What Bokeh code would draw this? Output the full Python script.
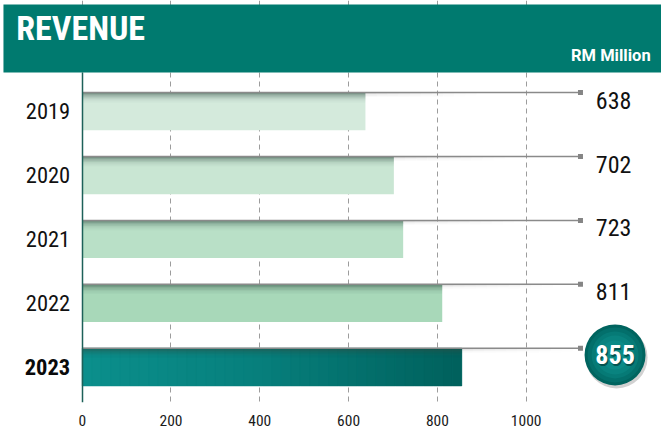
from bokeh.plotting import figure
from bokeh.embed import file_html
from bokeh.resources import INLINE
from bokeh.models import ColumnDataSource, Range1d, FixedTicker, LinearAxis
from bokeh.core.properties import value

# ---------------- data ----------------
years = ["2019", "2020", "2021", "2022", "2023"]
revenue = [638, 702, 723, 811, 855]
bar_colors = ["#d4eadc", "#c9e6d3", "#b9e0c7", "#a8d8b9", "#0a8a87"]
x_ticks = [0, 200, 400, 600, 800, 1000]
title_text = "REVENUE"
unit_text = "RM Million"

# ---------------- layout (measured in reference pixels) ----------------
REF_W, REF_H = 669, 437
W, H = 661, 429                 # fits the window with the 8px page margin
SX, SY = W / REF_W, H / REF_H
X_ZERO = 82.7 * SX              # canvas px of x = 0
PPU = 0.4493 * SX               # px per revenue unit
ROW = 65.1 * SY                 # px per category row
Y0 = 113.0 * SY                 # canvas px of first row centre
FRAME_H = 402
BAR_H = 0.59                    # bar height (row units)
COND = value("Roboto Condensed")


def dx(ref_px):
    return (ref_px * SX - X_ZERO) / PPU


def dy(ref_px):
    return (ref_px * SY - Y0) / ROW


x_start, x_end = -X_ZERO / PPU, (W - X_ZERO) / PPU
y_bottom, y_top = (FRAME_H - Y0) / ROW, -Y0 / ROW
header_bottom = dy(73.3)

pos = list(range(len(years)))
last = pos[-1]

p = figure(width=W, height=H, output_backend="svg", toolbar_location=None,
           x_range=Range1d(x_start, x_end), y_range=Range1d(y_bottom, y_top),
           min_border_left=0, min_border_right=0, min_border_top=0,
           min_border_bottom=H - FRAME_H)
p.outline_line_color = None
p.background_fill_color = "white"
p.border_fill_color = "white"

# grid
p.ygrid.visible = False
p.xgrid.ticker = FixedTicker(ticks=x_ticks)
p.xgrid.grid_line_color = "#9c9c9c"
p.xgrid.grid_line_dash = "5 4"
p.xgrid.grid_line_width = 1

# x axis
p.xaxis.ticker = FixedTicker(ticks=x_ticks)
p.xaxis.axis_line_color = None
p.xaxis.major_tick_line_color = None
p.xaxis.minor_tick_line_color = None
p.xaxis.major_label_text_font = "Roboto Condensed"
p.xaxis.major_label_text_font_size = "15.5px"
p.xaxis.major_label_text_color = "#1a1a1a"
p.xaxis.major_label_standoff = 6

# y axis (normal years)
p.yaxis.ticker = FixedTicker(ticks=pos[:-1])
p.yaxis.major_label_overrides = {i: y for i, y in zip(pos[:-1], years[:-1])}
p.yaxis.fixed_location = 0
p.yaxis.bounds = (header_bottom, y_bottom)
p.yaxis.axis_line_color = "#1d6159"
p.yaxis.axis_line_width = 1.5
p.yaxis.major_tick_line_color = None
p.yaxis.minor_tick_line_color = None
p.yaxis.major_label_text_font = "Roboto Condensed"
p.yaxis.major_label_text_font_size = "22.5px"
p.yaxis.major_label_text_color = "#111111"
p.yaxis.major_label_standoff = 6

# y axis (highlighted year, bold)
ax2 = LinearAxis(ticker=FixedTicker(ticks=[last]),
                 major_label_overrides={last: years[-1]},
                 fixed_location=0, axis_line_color=None,
                 major_tick_line_color=None, minor_tick_line_color=None,
                 major_label_text_font="Roboto Condensed",
                 major_label_text_font_style="bold",
                 major_label_text_font_size="22.5px",
                 major_label_text_color="#0a0a0a",
                 major_label_standoff=6)
p.add_layout(ax2, "left")

# header band
p.quad(left=dx(3), right=x_end + 50, top=dy(4), bottom=header_bottom,
       fill_color="#007a6f", line_color=None)

# bars
src = ColumnDataSource(dict(y=pos, right=revenue, color=bar_colors))
p.hbar(y="y", left=0, right="right", height=BAR_H, fill_color="color",
       line_color=None, source=src)

# gradient on highlighted bar (left -> right)
N = 40
stops = [(0.0, (11, 143, 140)), (0.45, (7, 128, 125)), (1.0, (0, 96, 92))]


def interp(f):
    for (f0, c0), (f1, c1) in zip(stops[:-1], stops[1:]):
        if f0 <= f <= f1:
            t = (f - f0) / (f1 - f0)
            return "#%02x%02x%02x" % tuple(int(round(a + (b - a) * t)) for a, b in zip(c0, c1))
    return "#%02x%02x%02x" % stops[-1][1]


gl, gr, gc = [], [], []
for i in range(N):
    gl.append(revenue[-1] * i / N)
    gr.append(revenue[-1] * (i + 1) / N)
    gc.append(interp((i + 0.5) / N))
p.hbar(y=[last] * N, left=gl, right=gr, height=BAR_H, fill_color=gc, line_color=gc,
       line_width=0.6)

# top shading of bars
alphas = [0.55, 0.42, 0.3, 0.2, 0.12, 0.06, 0.03]
strip = 1.4 / ROW
sy, sr, sa = [], [], []
for i, v in zip(pos, revenue):
    for j, a in enumerate(alphas):
        sy.append(i - BAR_H / 2 + (j + 0.5) * strip)
        sr.append(v)
        sa.append(a)
p.hbar(y=sy, left=0, right=sr, height=strip, fill_color="#2e4a40", fill_alpha=sa,
       line_color=None)

# soft shadow under the leader line, fading to the right
shy, shl, shr, sha = [], [], [], []
K = 10
for i, v in zip(pos, revenue):
    for j, a in enumerate([0.22, 0.1, 0.04]):
        for k in range(K):
            shy.append(i - BAR_H / 2 + (j + 0.5) * strip)
            shl.append(v + k * 25)
            shr.append(v + (k + 1) * 25)
            sha.append(a * (1 - k / K))
p.hbar(y=shy, left=shl, right=shr, height=strip, fill_color="#555555",
       fill_alpha=sha, line_color=None)

# leader lines with square end markers
line_end = dx(587)
ly = [i - BAR_H / 2 for i in pos]
p.segment(x0=[0] * len(pos), y0=ly, x1=[line_end] * len(pos), y1=ly,
          line_color="#8a8a8a", line_width=1.5)
p.scatter(x=[line_end] * len(pos), y=ly, marker="square", size=5,
          fill_color="#858585", line_color=None)

# value labels (all but highlighted)
VAL_DY = -11.5 / 65.1
p.text(x=[dx(602.5)] * (len(pos) - 1), y=[i + VAL_DY for i in pos[:-1]],
       text=[str(v) for v in revenue[:-1]], text_font=COND,
       text_font_size="24px", text_baseline="middle", text_align="left",
       text_color="#111111")

# highlighted value in a circle
cx = dx(622)
cy = last - 12.4 / 65.1
p.scatter(x=[cx + 1.5 / PPU], y=[cy + 2.5 / ROW], size=62, fill_color="#000000",
          fill_alpha=0.18, line_color=None)
for s, c in zip([61, 55, 47, 39, 29], ["#00645f", "#036f6b", "#067a76", "#09837f", "#0b8a87"]):
    p.scatter(x=[cx], y=[cy], size=s, fill_color=c, line_color=None)
p.text(x=[cx + 1.2 / PPU], y=[cy + 1.5 / ROW], text=[str(revenue[-1])],
       text_font=COND, text_font_style="bold", text_font_size="26px",
       text_align="center", text_baseline="middle", text_color="#00302d",
       text_alpha=0.6)
p.text(x=[cx], y=[cy], text=[str(revenue[-1])], text_font=COND,
       text_font_style="bold", text_font_size="26px", text_align="center",
       text_baseline="middle", text_color="white")

# header texts
p.text(x=[dx(16)], y=[dy(28.5)], text=[title_text], text_font=COND,
       text_font_style="bold", text_font_size="34px", text_color="white",
       text_baseline="middle", text_align="left")
p.text(x=[dx(658)], y=[dy(56.5)], text=[unit_text], text_font=value("Roboto"),
       text_font_style="bold", text_font_size="16.5px", text_color="white",
       text_align="right", text_baseline="middle")

open("out.html", "w").write(file_html(p, INLINE))
